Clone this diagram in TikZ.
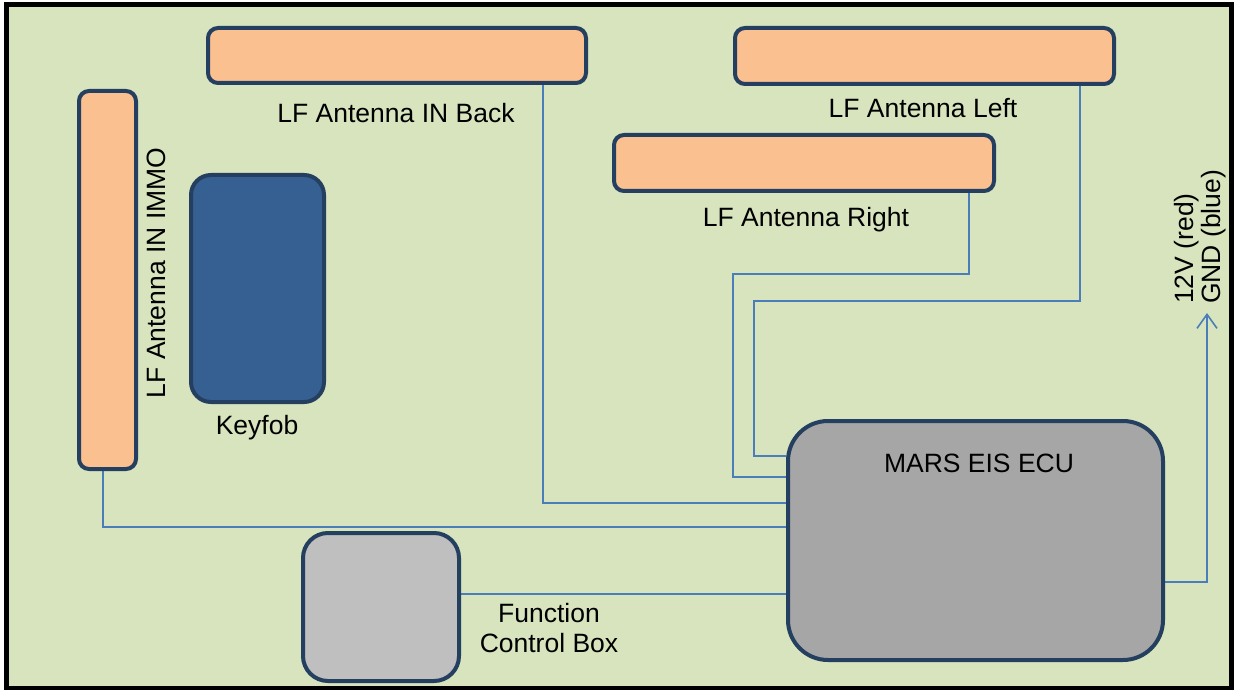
\documentclass[tikz,border=0pt]{standalone}
\usepackage{fontspec}
\setmainfont{Liberation Sans}
\usetikzlibrary{arrows.meta}
\definecolor{bggreen}{HTML}{D7E4BD}
\definecolor{antfill}{HTML}{FAC090}
\definecolor{edge}{HTML}{243F60}
\definecolor{fobfill}{HTML}{376092}
\definecolor{ecufill}{HTML}{A6A6A6}
\definecolor{fcbfill}{HTML}{BFBFBF}
\definecolor{wirec}{HTML}{4A7EBB}
\pgfdeclarelayer{bglayer}
\pgfdeclarelayer{wirelayer}
\pgfsetlayers{bglayer,wirelayer,main}
\tikzset{
  box/.style={draw=edge, line width=4pt, rounded corners=#1, inner sep=0pt},
  box/.default=10pt,
  ant/.style={box, fill=antfill},
  lbl/.style={font=\fontsize{26.5}{30}\selectfont, inner sep=0pt, align=center},
  wire/.style={draw=wirec, line width=1.6pt},
}
\begin{document}
\begin{tikzpicture}[x=1pt,y=-1pt]
\useasboundingbox (0,0) rectangle (1235,690);
% nodes
\node[ant, minimum width=378pt, minimum height=55pt] (back) at (397,55.5) {};
\node[ant, minimum width=379pt, minimum height=56pt] (left) at (924.5,56) {};
\node[ant, minimum width=380pt, minimum height=56pt] (right) at (804,163) {};
\node[ant, minimum width=57pt, minimum height=378pt] (immo) at (107.5,280) {};
\node[box=20pt, fill=fobfill, minimum width=133pt, minimum height=227pt] (fob) at (257.5,288.5) {};
\node[box=40pt, fill=ecufill, minimum width=375pt, minimum height=239pt] (ecu) at (975.5,540.5) {};
\node[box=25pt, fill=fcbfill, minimum width=156pt, minimum height=148pt] (fcb) at (381,607) {};
% labels
\node[lbl] (lback) at (396,113) {LF Antenna IN Back};
\node[lbl] (lleft) at (923,108) {LF Antenna Left};
\node[lbl] (lright) at (806,220) {LF Antenna Right};
\node[lbl, rotate=90] (limmo) at (156,273) {LF Antenna IN IMMO};
\node[lbl] (lfob) at (257,428) {Keyfob};
\node[lbl] (lecu) at (979,463) {MARS EIS ECU};
\node[lbl, font=\fontsize{26.5}{30}\selectfont] (lfcb) at (549,628) {Function\\Control Box};
\node[lbl, rotate=90, align=left, anchor=west, font=\fontsize{26.5}{27.5}\selectfont] (lpwr) at (1200,304) {12V (red)\\GND (blue)};
\coordinate (pwr) at (1207,313);
% wires
\begin{pgfonlayer}{wirelayer}
\draw[wire] ([xshift=146pt]back.south) |- ([yshift=37.5pt]ecu.west);
\draw[wire] ([xshift=-4.5pt]immo.south) |- ([yshift=13.5pt]ecu.west);
\draw[wire] ([xshift=165pt]right.south) -- ++(0,81) -- ++(-236,0) |- ([yshift=63.5pt]ecu.west);
\draw[wire] ([xshift=155.5pt]left.south) -- ++(0,215) -- ++(-326,0) |- ([yshift=84.5pt]ecu.west);
\draw[wire] ([yshift=13pt]fcb.east) -- ([yshift=-53.5pt]ecu.west);
\draw[wire, -{Straight Barb[length=14pt,width=20pt]}] ([yshift=-41.5pt]ecu.east) -| (pwr);
\end{pgfonlayer}
% background
\begin{pgfonlayer}{bglayer}
\fill[white] (0,0) rectangle (1235,690);
\draw[fill=bggreen, line width=5pt] (6.5,4.5) rectangle (1231,688);
\end{pgfonlayer}
\end{tikzpicture}
\end{document}
